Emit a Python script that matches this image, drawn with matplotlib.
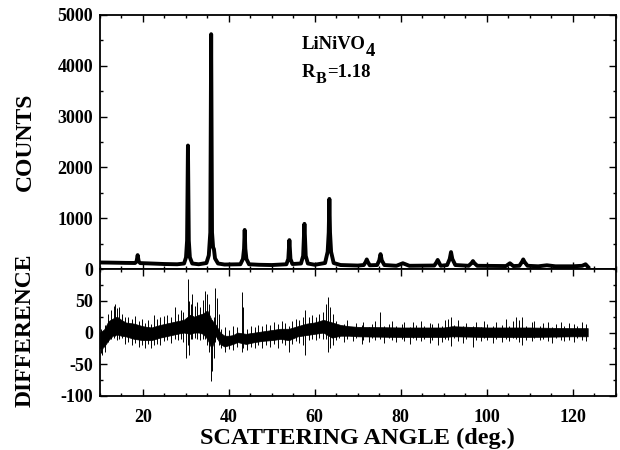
import matplotlib
matplotlib.use("Agg")
import matplotlib.pyplot as plt
from matplotlib.ticker import MultipleLocator

plt.rcParams['font.family'] = ['Liberation Serif', 'DejaVu Serif']
plt.rcParams['font.weight'] = 'bold'
plt.rcParams['axes.unicode_minus'] = False

angle = [10.0, 12.0, 14.0, 16.0, 18.2, 18.55, 18.8, 19.05, 19.4, 22.0, 25.0, 28.0,
         29.6, 30.05, 30.3, 30.5, 30.7, 30.95, 31.5, 33.0,
         34.8, 35.35, 35.7, 35.9, 36.1, 36.35, 36.55, 36.8, 37.5, 39.0,
         42.7, 43.3, 43.55, 43.7, 43.85, 44.1, 44.7, 47.0, 50.0,
         53.4, 53.85, 54.1, 54.35, 54.8,
         56.8, 57.3, 57.6, 57.9, 58.4, 60.0,
         62.4, 63.0, 63.25, 63.4, 63.55, 63.8, 64.4, 66.0, 70.0,
         71.4, 71.85, 72.1, 72.35, 72.8,
         74.5, 75.0, 75.3, 75.6, 76.2, 79.0, 80.5, 82.0,
         87.8, 88.3, 88.6, 88.9, 89.3,
         90.8, 91.4, 91.7, 92.0, 92.7,
         95.8, 96.5, 96.8, 97.1, 97.8,
         104.5, 105.4, 106.2,
         107.6, 108.2, 108.5, 108.8, 109.5,
         112.0, 114.0, 116.0, 120.0, 122.2, 123.0, 123.6]
counts = [130, 128, 125, 122, 120, 150, 275, 150, 118, 110, 100, 95,
          110, 230, 560, 2430, 560, 230, 110, 95,
          120, 270, 720, 4620, 720, 430, 390, 210, 110, 90,
          95, 200, 400, 770, 400, 200, 95, 85, 80,
          95, 200, 570, 200, 100,
          110, 260, 890, 260, 110, 85,
          120, 340, 720, 1380, 720, 340, 120, 80, 70,
          80, 140, 190, 140, 75,
          80, 170, 295, 170, 80, 65, 115, 65,
          70, 130, 180, 130, 65,
          80, 200, 335, 200, 80,
          65, 120, 158, 120, 65,
          60, 115, 60,
          65, 140, 190, 140, 65,
          55, 75, 55, 55, 65, 95, 40]

# Difference curve: dense core of the noise band
diff_angle = [10, 11, 12, 13, 14, 15, 16, 18, 20, 22, 24, 26, 28, 29.5, 31, 32, 33, 34,
              35, 36, 37, 38, 39, 40, 41, 42, 44, 46, 48, 50, 52, 54, 56, 58, 60, 62,
              64, 66, 68, 70, 80, 90, 92, 100, 110, 120, 123.5]
diff_upper = [0, 5, 18, 22, 25, 20, 16, 14, 10, 8, 12, 15, 18, 20, 28, 25, 28, 30,
              35, 20, 12, 0, -5, -5, -4, 0, -2, 0, 2, 4, 6, 6, 10, 14, 16, 20,
              16, 12, 10, 9, 8, 8, 10, 8, 8, 7, 7]
diff_lower = [-25, -22, -12, -5, -3, -5, -6, -10, -12, -12, -8, -5, -2, 0, -2, 0, 0, -2,
              -10, -25, -5, -18, -22, -20, -18, -15, -18, -15, -13, -12, -10, -12, -6, -4, -2, 0,
              -8, -5, -5, -6, -7, -7, -6, -7, -7, -6, -6]

# Whiskers / spikes of the difference curve (angle, low, high)
spike_angle = [10.3, 10.5, 11.2, 11.8, 12.6, 13.2, 13.5, 13.9, 14.5, 15.2, 15.9, 16.6,
               17.4, 18.2, 19.0, 19.7, 20.5, 21.3, 22.0, 22.5, 23.3, 24.1, 24.9, 25.7,
               26.5, 27.5, 28.1, 28.8, 29.4, 30.1, 30.4, 30.7, 31.2, 31.5, 32.1, 32.7,
               33.3, 33.9, 34.5, 35.0, 35.4, 35.8, 36.1, 36.5, 36.9, 37.3, 37.7,
               38.3, 39.2, 40.1, 40.9, 41.8, 43.0, 43.4, 44.3, 45.1, 46.0, 46.9, 47.8,
               48.7, 49.6, 50.5, 51.4, 52.3, 53.1, 53.9, 54.7, 55.6, 56.4, 57.2, 57.8,
               58.6, 59.4, 60.3, 61.1, 61.9, 62.5, 63.0, 63.5, 64.2,
               65.0, 65.7, 66.9, 67.4, 68.8, 69.5, 70.9, 71.3, 72.6, 73.4, 74.1, 75.2,
               76.0, 77.3, 77.9, 79.0, 80.2, 80.7, 82.1, 82.9, 83.6, 84.8, 85.4, 86.7,
               87.3, 88.7, 89.6, 90.4, 91.0, 91.7, 92.5, 93.4, 94.6, 95.1, 96.8, 97.5,
               98.6, 99.3, 100.1, 101.5, 102.2, 103.6, 104.5, 105.3, 106.1, 106.8, 107.6,
               108.3, 109.2, 110.5, 111.1, 112.4, 113.0, 114.2, 115.3, 116.1, 117.4,
               118.0, 119.2, 120.3, 121.0, 122.1, 123.0]
spike_low = [-32, -35, -30, -15, -10, -8, -5, -12, -10, -8, -18, -15,
             -20, -16, -22, -20, -25, -18, -25, -20, -18, -20, -14, -12,
             -16, -10, -12, -10, -15, -40, -20, -35, -10, -10, -8, -10,
             -12, -10, -10, -20, -30, -76, -60, -40, -15, -10, -20,
             -25, -30, -26, -28, -22, -30, -25, -28, -22, -25, -20, -24,
             -20, -22, -18, -24, -16, -20, -31, -18, -14, -16, -20, -36,
             -12, -10, -12, -8, -10, -10, -31, -25, -20,
             -12, -8, -15, -10, -14, -9, -18, -11, -15, -9, -11, -10,
             -16, -9, -12, -15, -10, -13, -18, -9, -12, -14, -10, -16,
             -11, -20, -15, -10, -12, -21, -9, -14, -16, -10, -23, -12,
             -14, -9, -12, -16, -10, -15, -10, -13, -9, -10, -15,
             -19, -12, -13, -9, -12, -10, -14, -16, -9, -12,
             -14, -11, -15, -9, -12, -14]
spike_high = [5, 0, 12, 30, 35, 42, 45, 38, 40, 30, 24, 25,
              22, 26, 18, 22, 15, 20, 14, 28, 22, 24, 26, 28,
              25, 40, 30, 35, 32, 20, 85, 50, 45, 60, 42, 48,
              40, 52, 65, 60, 45, 0, 20, 25, 70, 55, 30,
              5, 8, 4, 10, 8, 64, 40, 6, 10, 8, 12, 10,
              14, 12, 16, 14, 18, 15, 10, 18, 22, 20, 25, 35,
              24, 28, 25, 30, 32, 45, 56, 40, 30,
              18, 10, 14, 20, 9, 15, 12, 17, 9, 14, 18, 32,
              10, 14, 18, 11, 13, 17, 9, 16, 12, 18, 10, 15,
              13, 15, 11, 19, 22, 24, 12, 20, 10, 15, 10, 16,
              9, 18, 14, 11, 17, 12, 22, 10, 18, 24, 20,
              24, 11, 16, 18, 10, 15, 17, 9, 14, 16,
              10, 15, 14, 11, 16, 14]

fig = plt.figure(figsize=(6.2, 4.5), dpi=100)
ax1 = fig.add_axes([0.161, 0.402, 0.832, 0.565])
ax2 = fig.add_axes([0.161, 0.12, 0.832, 0.282], sharex=ax1)

ax1.plot(angle, counts, color='black', lw=2.8, solid_joinstyle='round')
ax1.set_xlim(10, 130)
ax1.set_ylim(0, 5000)
ax1.yaxis.set_major_locator(MultipleLocator(1000))
ax1.yaxis.set_minor_locator(MultipleLocator(500))
ax1.tick_params(labelbottom=False)

t1 = ax1.text(0.392, 0.885, 'LiNiVO', transform=ax1.transAxes, fontsize=13.5,
              fontweight='bold', va='center', ha='left')
ax1.annotate('4', xy=(1.0, 0.0), xycoords=t1, xytext=(0.0, 1), textcoords='offset points',
             fontsize=13.5, fontweight='bold', va='center', ha='left')
t2 = ax1.text(0.392, 0.775, 'R', transform=ax1.transAxes, fontsize=13.5,
              fontweight='bold', va='center', ha='left')
t3 = ax1.annotate('B', xy=(1.0, 0.0), xycoords=t2, xytext=(0.0, 1), textcoords='offset points',
                  fontsize=11.5, fontweight='bold', va='center', ha='left')
ax1.annotate('=1.18', xy=(1.0, 0.5), xycoords=(t3, t2), xytext=(0.3, 0), textcoords='offset points',
             fontsize=13.5, fontweight='bold', va='center', ha='left')

ax2.fill_between(diff_angle, diff_lower, diff_upper, color='black', lw=0.5)
ax2.vlines(spike_angle, spike_low, spike_high, color='black', lw=0.7)
ax2.set_ylim(-100, 100)
ax2.set_yticks([-100, -50, 0, 50])
ax2.yaxis.set_minor_locator(MultipleLocator(25))
ax2.xaxis.set_major_locator(MultipleLocator(20))
ax2.xaxis.set_minor_locator(MultipleLocator(5))

for ax in (ax1, ax2):
    ax.tick_params(which='both', direction='in', top=True, right=True, width=1.0)
    ax.tick_params(which='major', length=5, labelsize=13, pad=5)
    ax.tick_params(which='minor', length=2.5)
    for s in ax.spines.values():
        s.set_linewidth(1.3)
    for lab in ax.get_xticklabels() + ax.get_yticklabels():
        lab.set_fontweight('bold')
ax2.tick_params(axis='x', which='major', pad=9)

ax2.set_xlabel('SCATTERING ANGLE (deg.)', fontsize=17.5, fontweight='bold', labelpad=2)
fig.text(25 / 620, 1 - 142 / 450, 'COUNTS', rotation=90, fontsize=17, fontweight='bold',
         ha='center', va='center')
fig.text(25 / 620, 1 - 330 / 450, 'DIFFERENCE', rotation=90, fontsize=17, fontweight='bold',
         ha='center', va='center')

fig.savefig('out.png', dpi=100)
